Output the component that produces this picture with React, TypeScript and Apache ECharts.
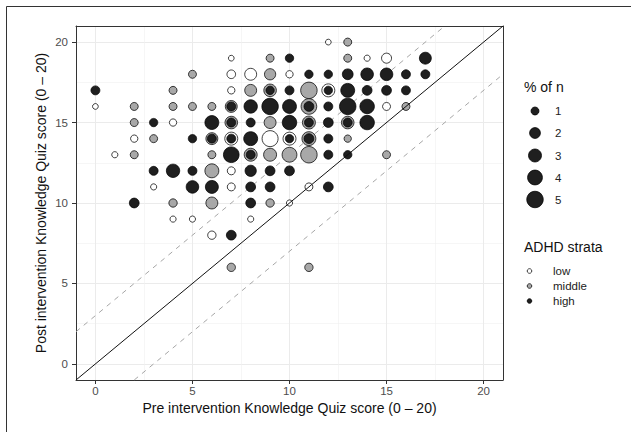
import React, { useEffect, useRef } from "react";
import * as echarts from "echarts";

// Axis ticks
const tickValues = [0, 5, 10, 15, 20];
const minorValues = [2.5, 7.5, 12.5, 17.5];
const axisMin = -1;
const axisMax = 21;

// Legend values
const sizeLegendValues = [1, 2, 3, 4, 5];
const strataNames = ["low", "middle", "high"];

// [pre score, post score, % of n]
const lowPoints = [
  [7, 19, 0.4], [12, 20, 0.4], [14, 19, 0.5], [15, 19, 1.7],
  [7, 18, 1.2], [8, 18, 2.5], [10, 18, 0.8],
  [7, 17, 0.8], [12, 17, 3],
  [0, 16, 0.4], [15, 16, 1],
  [4, 15, 0.8],
  [2, 14, 0.8], [7, 14, 3], [9, 14, 4.7], [10, 14, 3],
  [1, 13, 0.5],
  [7, 12, 1],
  [3, 11, 0.5], [7, 11, 1], [11, 11, 1],
  [10, 10, 0.5],
  [4, 9, 0.5], [5, 9, 0.5], [8, 9, 0.5],
  [6, 8, 1.1],
];

const middlePoints = [
  [13, 20, 1],
  [9, 19, 1], [13, 19, 1],
  [5, 18, 1], [9, 18, 2.2],
  [4, 17, 1], [8, 17, 2.5], [9, 17, 2.8], [11, 17, 5],
  [2, 16, 1], [4, 16, 1], [5, 16, 1], [6, 16, 1], [7, 16, 2.5], [11, 16, 4.5], [16, 16, 1],
  [2, 15, 1], [7, 15, 2.8], [9, 15, 2.5], [11, 15, 3], [13, 15, 2.8],
  [3, 14, 1], [6, 14, 2.5], [11, 14, 3.5], [13, 14, 0.8],
  [2, 13, 1], [6, 13, 1], [8, 13, 3], [9, 13, 3], [10, 13, 4], [11, 13, 5], [15, 13, 1],
  [6, 12, 3.5],
  [4, 10, 1.1], [6, 10, 2.5], [9, 10, 1.1],
  [7, 6, 1.1], [11, 6, 1.1],
];

const highPoints = [
  [10, 19, 1.1], [17, 19, 2.5],
  [11, 18, 1.1], [12, 18, 1.1], [13, 18, 2], [14, 18, 2.8], [15, 18, 2.8], [16, 18, 1.3], [17, 18, 1.3],
  [0, 17, 1.3], [9, 17, 1.1], [10, 17, 1.3], [12, 17, 1.1], [13, 17, 3.5], [14, 17, 1.6], [15, 17, 1.6], [16, 17, 1.3],
  [7, 16, 1.3], [8, 16, 3.2], [9, 16, 5], [10, 16, 3.5], [11, 16, 1.6], [12, 16, 1.3], [13, 16, 5], [14, 16, 3.8],
  [3, 15, 1.1], [6, 15, 3.5], [7, 15, 1.3], [8, 15, 1.3], [10, 15, 3.8], [11, 15, 1.3], [12, 15, 1.6], [13, 15, 1.3], [14, 15, 3.8],
  [5, 14, 1.1], [6, 14, 1.3], [7, 14, 1.3], [8, 14, 3.5], [10, 14, 1.1], [11, 14, 1.6], [12, 14, 1.3],
  [7, 13, 4.5], [8, 13, 1.3], [12, 13, 1.3], [13, 13, 1.1],
  [3, 12, 1.3], [4, 12, 3.2], [5, 12, 1.3], [8, 12, 2.2], [9, 12, 1.6], [10, 12, 1.6],
  [5, 11, 2.8], [6, 11, 3], [8, 11, 1.6], [9, 11, 1.6], [12, 11, 1.6],
  [2, 10, 1.6], [8, 10, 1.6],
  [7, 8, 1.6],
];

// Reference lines: identity and +/- 3 points
const identityLine = [[-1, -1], [21, 21]];
const upperBandLine = [[-1, 2], [18, 21]];
const lowerBandLine = [[2, -1], [21, 18]];

const strataFill = ["#FFFFFF", "#A8A8A8", "#1F1F1F"];
const FONT = "'Liberation Sans', Arial, Helvetica, sans-serif";

const diam = (v: number) => Math.sqrt(12 + 52 * v);

export default function App() {
  const ref = useRef<HTMLDivElement>(null);

  useEffect(() => {
    document.body.style.margin = "0";
    if (!ref.current) return;
    const chart = echarts.init(ref.current, null, { renderer: "svg" });

    const scatter = (name: string, data: number[][], idx: number) => ({
      name,
      type: "scatter",
      data,
      z: 3 + idx,
      symbol: "circle",
      symbolSize: (v: number[]) => diam(v[2]),
      itemStyle: { color: strataFill[idx], borderColor: "#000", borderWidth: 0.75, opacity: 1 },
      emphasis: { disabled: true },
      silent: true,
    });

    const refLine = (data: number[][], dashed: boolean) => ({
      type: "line",
      data,
      z: dashed ? 1 : 8,
      showSymbol: false,
      symbol: "none",
      silent: true,
      lineStyle: dashed
        ? { color: "#A6A6A6", width: 1, type: [5, 5] }
        : { color: "#111", width: 1 },
    });

    const axisLabelStyle = { color: "#4D4D4D", fontSize: 11.5, fontFamily: FONT };
    const nameStyle = { color: "#111", fontSize: 14, fontFamily: FONT };

    const mainAxis = (isX: boolean) => ({
      type: "value",
      min: axisMin,
      max: axisMax,
      position: isX ? "bottom" : "left",
      axisLine: { show: true, onZero: false, lineStyle: { color: "#333", width: 1 } },
      axisTick: { show: true, customValues: tickValues, length: 4, lineStyle: { color: "#333" } },
      axisLabel: { ...axisLabelStyle, customValues: tickValues, margin: isX ? 5 : 8 },
      splitLine: { show: true, lineStyle: { color: "#EBEBEB", width: 1 } },
      name: isX
        ? "Pre intervention Knowledge Quiz score (0 \u2013 20)"
        : "Post intervention Knowledge Quiz score (0 \u2013 20)",
      nameLocation: "middle",
      nameGap: isX ? 21 : 28,
      nameMoveOverlap: false,
      nameTextStyle: nameStyle,
    });

    const minorAxis = (isX: boolean) => ({
      type: "value",
      min: axisMin,
      max: axisMax,
      position: isX ? "top" : "right",
      axisLine: { show: true, onZero: false, lineStyle: { color: "#333", width: 1 } },
      axisTick: { show: false, customValues: minorValues },
      axisLabel: { show: false, customValues: minorValues },
      splitLine: { show: true, lineStyle: { color: "#F0F0F0", width: 0.6 } },
    });

    // legend graphics
    const legendX = 524;
    const graphics: any[] = [
      {
        type: "rect",
        shape: { x: 6.5, y: 6.5, width: 700, height: 500 },
        style: { fill: "none", stroke: "#333", lineWidth: 1 },
        silent: true,
      },
      {
        type: "text",
        style: { text: "% of n", x: legendX, y: 87, fill: "#111", fontSize: 14, fontFamily: FONT, verticalAlign: "middle" },
      },
      {
        type: "text",
        style: { text: "ADHD strata", x: legendX, y: 247, fill: "#111", fontSize: 14, fontFamily: FONT, verticalAlign: "middle" },
      },
    ];
    const sizeYs = [111, 133, 155.5, 177.5, 199.5];
    sizeLegendValues.forEach((v, i) => {
      graphics.push({
        type: "circle",
        shape: { cx: 535, cy: sizeYs[i], r: diam(v) / 2 },
        style: { fill: strataFill[2], stroke: "#000", lineWidth: 0.75 },
      });
      graphics.push({
        type: "text",
        style: { text: String(v), x: 555, y: sizeYs[i], fill: "#222", fontSize: 11.5, fontFamily: FONT, verticalAlign: "middle" },
      });
    });
    const strataYs = [271, 286, 301];
    strataNames.forEach((s, i) => {
      graphics.push({
        type: "circle",
        shape: { cx: 529.5, cy: strataYs[i], r: 2.3 },
        style: { fill: strataFill[i], stroke: "#000", lineWidth: 0.75 },
      });
      graphics.push({
        type: "text",
        style: { text: s, x: 553, y: strataYs[i], fill: "#222", fontSize: 11.5, fontFamily: FONT, verticalAlign: "middle" },
      });
    });

    chart.setOption({
      animation: false,
      backgroundColor: "#fff",
      grid: { left: 76, top: 26, width: 427, height: 354, containLabel: false },
      xAxis: [mainAxis(true), minorAxis(true)],
      yAxis: [mainAxis(false), minorAxis(false)],
      series: [
        refLine(upperBandLine, true),
        refLine(lowerBandLine, true),
        scatter(strataNames[0], lowPoints, 0),
        scatter(strataNames[1], middlePoints, 1),
        scatter(strataNames[2], highPoints, 2),
        refLine(identityLine, false),
      ],
      graphic: graphics,
    });

    return () => chart.dispose();
  }, []);

  return (
    <div
      ref={ref}
      style={{ position: "absolute", left: 0, top: 0, width: 631, height: 432 }}
    />
  );
}
